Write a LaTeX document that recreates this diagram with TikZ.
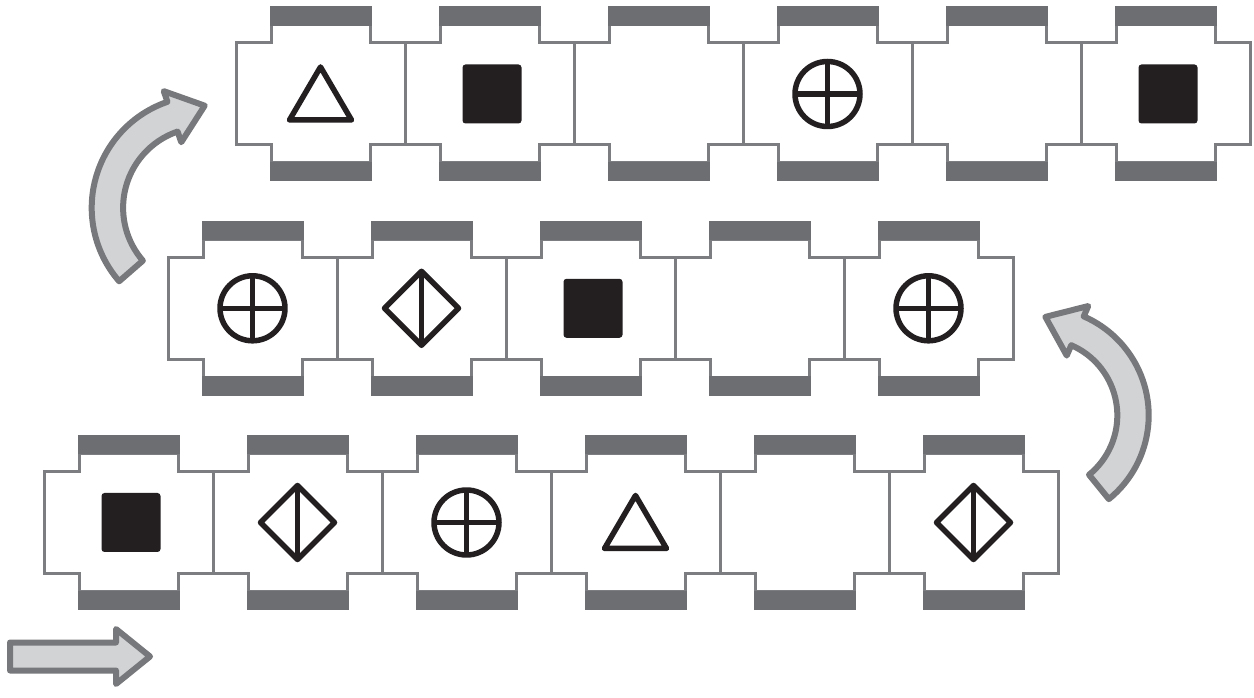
\documentclass[tikz,border=0pt]{standalone}
\definecolor{tilegray}{RGB}{124, 125, 128}
\definecolor{bargray}{RGB}{109, 110, 113}
\definecolor{inkblack}{RGB}{35, 31, 32}
\definecolor{arrowgray}{RGB}{119, 120, 123}
\definecolor{arrowlight}{RGB}{209, 211, 212}
\usepackage{tikz}
\usetikzlibrary{calc}

\tikzset{
  tileedge/.style={draw=tilegray, fill=white, line width=3pt},
  symline/.style={draw=inkblack, line width=5.5pt, line join=round},
  bigarrow/.style={draw=arrowgray, fill=arrowlight, line width=6pt, line join=round},
  tile/.pic={
    \filldraw[tileedge] (-84.5,51) -- (-49.5,51) -- (-49.5,69) -- (49.5,69) -- (49.5,51)
      -- (84.5,51) -- (84.5,-51) -- (49.5,-51) -- (49.5,-69) -- (-49.5,-69)
      -- (-49.5,-51) -- (-84.5,-51) -- cycle;
    \fill[bargray] (-51,68) rectangle (51,87.5);
    \fill[bargray] (-51,-68) rectangle (51,-87.5);
  },
  tri/.pic={\draw[symline] (0,27) -- (-31,-26) -- (31,-26) -- cycle;},
  blk/.pic={\fill[inkblack, rounded corners=3pt] (-27,-29.5) rectangle (32,29.5);},
  cross/.pic={
    \draw[symline] (0,0) circle[radius=32.5];
    \draw[symline] (-32.5,0) -- (32.5,0) (0,-32.5) -- (0,32.5);
  },
  diam/.pic={
    \draw[symline] (0,37) -- (37,0) -- (0,-37) -- (-37,0) -- cycle;
    \draw[symline] (0,37) -- (0,-37);
  },
  none/.pic={}
}

\begin{document}
\begin{tikzpicture}[x=1pt, y=1pt]
    \useasboundingbox (0,0) rectangle (1254,697);

    % Top row
    \foreach \s [count=\i from 0] in {tri,blk,none,cross,none,blk}{
      \pgfmathsetmacro{\pos}{320.5+\i*169}
      \coordinate (top-\i) at (\pos,603);
      \pic at (top-\i) {tile};
      \pic at (top-\i) {\s};
    }
    % Middle row
    \foreach \s [count=\i from 0] in {cross,diam,blk,none,cross}{
      \pgfmathsetmacro{\pos}{252.5+\i*169}
      \coordinate (mid-\i) at (\pos,388.7);
      \pic at (mid-\i) {tile};
      \pic at (mid-\i) {\s};
    }
    % Bottom row
    \foreach \s [count=\i from 0] in {blk,diam,cross,tri,none,diam}{
      \pgfmathsetmacro{\pos}{128.5+\i*169}
      \coordinate (bot-\i) at (\pos,174.5);
      \pic at (bot-\i) {tile};
      \pic at (bot-\i) {\s};
    }

    % Start arrow
    \filldraw[bigarrow] (10,54.5) -- (116,54.5) -- (116,68) -- (150,40.5)
      -- (116,13) -- (116,26.5) -- (10,26.5) -- cycle;

    % Bent arrows
    \coordinate (lc) at (203.7,489.2);
    \filldraw[bigarrow] ($(lc)+(221:112)$) arc[start angle=221, end angle=108.9, radius=112]
      -- ($(lc)+(108.9:123.3)$) -- ($(lc)+(108.9:96.3)+(18.9:34)$) -- ($(lc)+(108.9:69.3)$)
      -- ($(lc)+(108.9:80.6)$) arc[start angle=108.9, end angle=221, radius=80.6] -- cycle;

    \coordinate (rc) at (1040.8,281.6);
    \filldraw[bigarrow] ($(rc)+(-50.9:107.9)$) arc[start angle=-50.9, end angle=66.55, radius=107.9]
      -- ($(rc)+(66.55:119.2)$) -- ($(rc)+(66.55:92.2)+(156.55:35)$) -- ($(rc)+(66.55:65.2)$)
      -- ($(rc)+(66.55:76.5)$) arc[start angle=66.55, end angle=-50.9, radius=76.5] -- cycle;
\end{tikzpicture}
\end{document}
